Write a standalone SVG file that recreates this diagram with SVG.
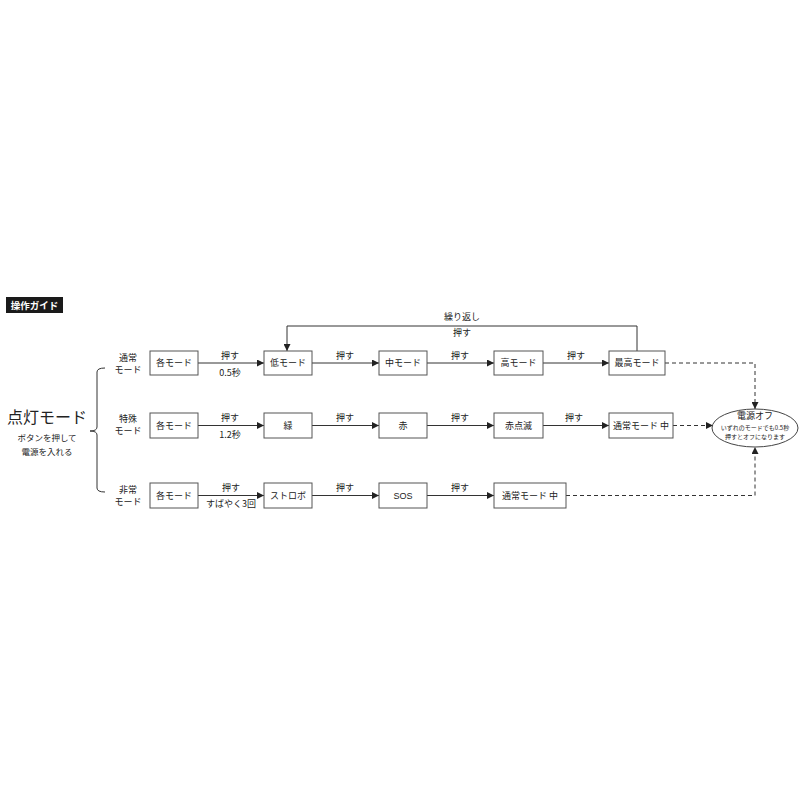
<svg xmlns="http://www.w3.org/2000/svg" width="800" height="800" viewBox="0 0 800 800">
<style>
text{font-family:"Noto Sans CJK JP","Noto Sans",sans-serif;fill:#222;text-anchor:middle}
.box{fill:#fff;stroke:#555;stroke-width:1}
.bt{font-size:9px}
.lb{font-size:9px}
.ln{fill:none;stroke:#333;stroke-width:1}
.dash{fill:none;stroke:#333;stroke-width:1;stroke-dasharray:4,3}
</style>
<defs>
<marker id="ah" viewBox="0 0 10 10" refX="10" refY="5" markerWidth="8" markerHeight="7" markerUnits="userSpaceOnUse" orient="auto">
<path d="M0,0 L10,5 L0,10 z" fill="#222"/>
</marker>
</defs>
<rect width="800" height="800" fill="#fff"/>
<g id="guide-label">
<rect x="6" y="297" width="57" height="16" fill="#1a1a1a"/>
<text x="34.5" y="308.5" style="font-size:9.5px;font-weight:bold;fill:#fff">操作ガイド</text>
</g>
<g id="title">
<text x="47" y="423" style="font-size:16px">点灯モード</text>
<text x="47" y="441" style="font-size:8.5px">ボタンを押して</text>
<text x="47" y="455" style="font-size:8.5px">電源を入れる</text>
</g>
<g id="brace">
<path class="ln" d="M105,368 Q97,368 97,372 L97,427 Q97,431 90,431 Q97,431 97,435 L97,488 Q97,492 105,492"/>
</g>
<g id="mode-labels">
<text class="lb" x="128" y="361">通常</text>
<text class="lb" x="128" y="373">モード</text>
<text class="lb" x="128" y="422">特殊</text>
<text class="lb" x="128" y="434">モード</text>
<text class="lb" x="128" y="493">非常</text>
<text class="lb" x="128" y="505">モード</text>
</g>
<g id="connectors">
<line class="ln" x1="198" y1="363" x2="264" y2="363" marker-end="url(#ah)"/>
<line class="ln" x1="312" y1="363" x2="379" y2="363" marker-end="url(#ah)"/>
<line class="ln" x1="427" y1="363" x2="494" y2="363" marker-end="url(#ah)"/>
<line class="ln" x1="543" y1="363" x2="609" y2="363" marker-end="url(#ah)"/>
<path class="ln" d="M637,351 L637,326 L287,326 L287,351" marker-end="url(#ah)"/>
<line class="ln" x1="198" y1="425.5" x2="264" y2="425.5" marker-end="url(#ah)"/>
<line class="ln" x1="312" y1="425.5" x2="379" y2="425.5" marker-end="url(#ah)"/>
<line class="ln" x1="427" y1="425.5" x2="494" y2="425.5" marker-end="url(#ah)"/>
<line class="ln" x1="543" y1="425.5" x2="609" y2="425.5" marker-end="url(#ah)"/>
<line class="ln" x1="198" y1="495.5" x2="264" y2="495.5" marker-end="url(#ah)"/>
<line class="ln" x1="312" y1="495.5" x2="379" y2="495.5" marker-end="url(#ah)"/>
<line class="ln" x1="427" y1="495.5" x2="494" y2="495.5" marker-end="url(#ah)"/>
<path class="dash" d="M665,363 L755,363 L755,409" marker-end="url(#ah)"/>
<line class="dash" x1="673" y1="425.5" x2="713" y2="425.5" marker-end="url(#ah)"/>
<path class="dash" d="M566,495.5 L755,495.5 L755,447" marker-end="url(#ah)"/>
<text class="lb" x="462" y="320">繰り返し</text>
<text class="lb" x="462" y="336">押す</text>
<text class="lb" x="230" y="359">押す</text>
<text class="lb" x="230" y="376">0.5秒</text>
<text class="lb" x="345" y="359">押す</text>
<text class="lb" x="460" y="359">押す</text>
<text class="lb" x="576" y="359">押す</text>
<text class="lb" x="230" y="421">押す</text>
<text class="lb" x="230" y="438">1.2秒</text>
<text class="lb" x="345" y="421">押す</text>
<text class="lb" x="460" y="421">押す</text>
<text class="lb" x="574" y="421">押す</text>
<text class="lb" x="231" y="491">押す</text>
<text class="lb" x="231" y="507">すばやく3回</text>
<text class="lb" x="345" y="491">押す</text>
<text class="lb" x="460" y="491">押す</text>
</g>
<g id="n-kaku1"><rect class="box" x="150" y="351" width="48" height="24"/><text class="bt" x="174" y="366">各モード</text></g>
<g id="n-tei"><rect class="box" x="264" y="351" width="48" height="24"/><text class="bt" x="288" y="366">低モード</text></g>
<g id="n-chu"><rect class="box" x="379" y="351" width="48" height="24"/><text class="bt" x="403" y="366">中モード</text></g>
<g id="n-ko"><rect class="box" x="494" y="351" width="49" height="24"/><text class="bt" x="518.5" y="366">高モード</text></g>
<g id="n-saiko"><rect class="box" x="609" y="351" width="56" height="24"/><text class="bt" x="637" y="366">最高モード</text></g>
<g id="n-kaku2"><rect class="box" x="150" y="413" width="48" height="25"/><text class="bt" x="174" y="428.5">各モード</text></g>
<g id="n-midori"><rect class="box" x="264" y="413" width="48" height="25"/><text class="bt" x="288" y="428.5">緑</text></g>
<g id="n-aka"><rect class="box" x="379" y="413" width="48" height="25"/><text class="bt" x="403" y="428.5">赤</text></g>
<g id="n-akatenmetsu"><rect class="box" x="494" y="413" width="49" height="25"/><text class="bt" x="518.5" y="428.5">赤点滅</text></g>
<g id="n-tsujo2"><rect class="box" x="609" y="413" width="64" height="25"/><text class="bt" x="641" y="428.5">通常モード 中</text></g>
<g id="n-kaku3"><rect class="box" x="150" y="483" width="48" height="25"/><text class="bt" x="174" y="498.5">各モード</text></g>
<g id="n-strobo"><rect class="box" x="264" y="483" width="48" height="25"/><text class="bt" x="288" y="498.5">ストロボ</text></g>
<g id="n-sos"><rect class="box" x="379" y="483" width="48" height="25"/><text class="bt" x="403" y="498.5" style="font-family:'Liberation Sans',sans-serif">SOS</text></g>
<g id="n-tsujo3"><rect class="box" x="494" y="483" width="72" height="25"/><text class="bt" x="530" y="498.5">通常モード 中</text></g>
<g id="n-off">
<ellipse cx="755" cy="428" rx="43" ry="19" fill="#fff" stroke="#444" stroke-width="1"/>
<text x="755" y="419" style="font-size:9px">電源オフ</text>
<text x="755" y="430" style="font-size:6px">いずれのモードでも0.5秒</text>
<text x="755" y="439" style="font-size:6px">押すとオフになります</text>
</g>
</svg>
